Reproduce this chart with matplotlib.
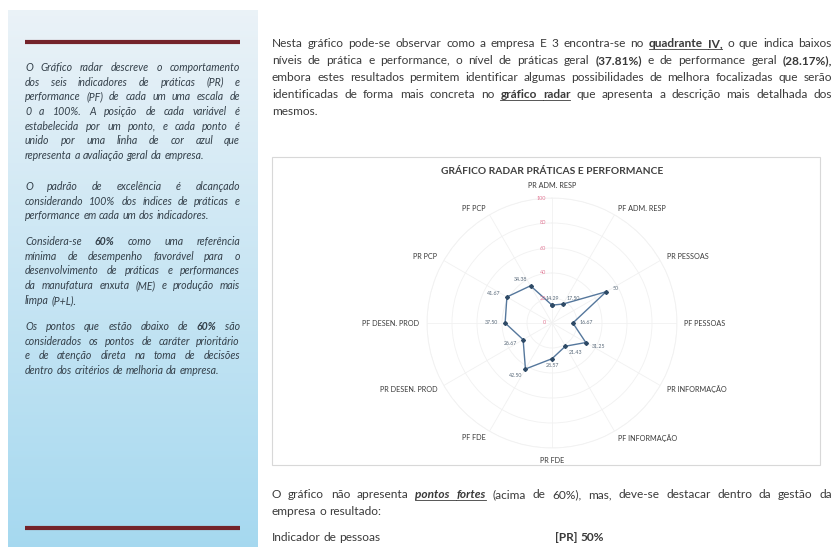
import numpy as np
import matplotlib
matplotlib.use('Agg')
import matplotlib.pyplot as plt
from matplotlib.patches import Rectangle
from matplotlib.transforms import ScaledTranslation

# radar data (percent, 0-100)
categories = ['PR ADM. RESP', 'PF ADM. RESP', 'PR PESSOAS', 'PF PESSOAS',
              'PR INFORMAÇÃO', 'PF INFORMAÇÃO', 'PR FDE', 'PF FDE',
              'PR DESEN. PROD', 'PF DESEN. PROD', 'PR PCP', 'PF PCP']
values = [14.29, 17.50, 50.00, 16.67, 31.25, 21.43, 28.57, 42.50, 26.67, 37.50, 41.67, 34.38]
rticks = [0, 20, 40, 60, 80, 100]

# page text ('*' bold, '_' underline, '~' italic in front of a word)
side_paragraphs = [
    ["O Gráfico radar descreve o comportamento",
     "dos seis indicadores de práticas (PR) e",
     "performance (PF) de cada um uma escala de",
     "0 a 100%. A posição de cada variável é",
     "estabelecida por um ponto, e cada ponto é",
     "unido por uma linha de cor azul que",
     "representa a avaliação geral da empresa."],
    ["O padrão de excelência é alcançado",
     "considerando 100% dos índices de práticas e",
     "performance em cada um dos indicadores."],
    ["Considera-se *60% como uma referência",
     "mínima de desempenho favorável para o",
     "desenvolvimento de práticas e performances",
     "da manufatura enxuta (ME) e produção mais",
     "limpa (P+L)."],
    ["Os pontos que estão abaixo de *60% são",
     "considerados os pontos de caráter prioritário",
     "e de atenção direta na toma de decisões",
     "dentro dos critérios de melhoria da empresa."],
]
side_starts = [71, 190, 245, 330]

body_lines = [
    "Nesta gráfico pode-se observar como a empresa E 3 encontra-se no *_quadrante *_IV, o que indica baixos",
    "níveis de prática e performance, o nível de práticas geral *(37.81%) e de performance geral *(28.17%),",
    "embora estes resultados permitem identificar algumas possibilidades de melhora focalizadas que serão",
    "identificadas de forma mais concreta no *_gráfico *_radar que apresenta a descrição mais detalhada dos",
    "mesmos.",
]
bottom_lines = [
    "O gráfico não apresenta *~_pontos *~_fortes (acima de 60%), mas, deve-se destacar dentro da gestão da",
    "empresa o resultado:",
]

FONT = 'Lato'
W, H = 837, 557
fig = plt.figure(figsize=(W / 100, H / 100), dpi=100)
bg = fig.add_axes([0, 0, 1, 1])
bg.set_xlim(0, W)
bg.set_ylim(H, 0)
bg.axis('off')
renderer = fig.canvas.get_renderer()


def write_line(line, x0, x1, y, size, justify=True, italic=False, color='#3a3a3a'):
    arts, under = [], []
    for w in line.split():
        marks = ''
        while w[0] in '*_~' and len(w) > 1:
            marks += w[0]
            w = w[1:]
        t = bg.text(x0, y, w, fontsize=size, family=FONT, color=color, va='baseline',
                    fontweight='bold' if '*' in marks else 'normal',
                    fontstyle='italic' if (italic or '~' in marks) else 'normal')
        arts.append(t)
        under.append('_' in marks)
    widths = [t.get_window_extent(renderer).width for t in arts]
    space = size * 0.25 * 100 / 72
    natural = sum(widths) + space * (len(arts) - 1)
    if natural > x1 - x0:
        # shrink the line a little so it fits the column
        k = (x1 - x0) / natural
        for t in arts:
            t.set_fontsize(size * k)
        widths = [w * k for w in widths]
        space *= k
    gap = space
    if justify and len(arts) > 1:
        gap = (x1 - x0 - sum(widths)) / (len(arts) - 1)
    x = x0
    for i, t in enumerate(arts):
        t.set_x(x)
        if under[i]:
            end = x + widths[i] + (gap if i + 1 < len(arts) and under[i + 1] else 0)
            bg.plot([x, end], [y + 1.8, y + 1.8], color=color, lw=0.6)
        x += widths[i] + gap


# sidebar panel with gradient
grad = np.linspace(0, 1, 256)[:, None]
top = np.array([0.92, 0.95, 0.97])
bot = np.array([0.65, 0.85, 0.94])
img = (top + (bot - top) * grad)[:, None, :].repeat(2, axis=1)
bg.imshow(img, extent=[8, 258, 547, 10], aspect='auto', zorder=0)
bg.plot([25, 240], [42, 42], color='#74232a', lw=3, solid_capstyle='butt')
bg.plot([25, 240], [528, 528], color='#74232a', lw=3, solid_capstyle='butt')

for para, y0 in zip(side_paragraphs, side_starts):
    for i, line in enumerate(para):
        write_line(line, 25, 240, y0 + i * 14.7, 7.6, justify=(i < len(para) - 1),
                   italic=True, color='#34404a')

for i, line in enumerate(body_lines):
    write_line(line, 272, 832, 47 + i * 17, 8.6, justify=(i < len(body_lines) - 1))
for i, line in enumerate(bottom_lines):
    write_line(line, 272, 832, 498 + i * 17, 8.6, justify=(i == 0))
write_line("Indicador de pessoas", 272, 500, 541, 8.6, justify=False)
write_line("*[PR] *50%", 555, 700, 541, 8.6, justify=False)

# chart box and title
bg.add_patch(Rectangle((272, 157), 548, 308, fill=False, ec='#d8d8d8', lw=0.8))
bg.text(552, 171, 'GRÁFICO RADAR PRÁTICAS E PERFORMANCE', ha='center', va='center',
        fontsize=7.4, fontweight='bold', family=FONT, color='#404040')

# radar
cx, cy, R = 552, 323, 125
ax = fig.add_axes([(cx - R) / W, (H - cy - R) / H, 2 * R / W, 2 * R / H], projection='polar')
ax.set_theta_zero_location('N')
ax.set_theta_direction(-1)
ax.patch.set_alpha(0)
angles = np.arange(len(categories)) * 2 * np.pi / len(categories)
ax.set_xticks(angles)
ax.set_xticklabels([])
ax.set_yticks(rticks[1:])
ax.set_yticklabels([])
ax.set_ylim(0, 100)
ax.grid(color='#f1f1f1', lw=0.6)
ax.spines['polar'].set_color('#f1f1f1')
ax.spines['polar'].set_linewidth(0.6)

ang_c = np.append(angles, angles[0])
val_c = values + [values[0]]
ax.plot(ang_c, val_c, color='#55779c', lw=1.0, marker='D', ms=2.0,
        mfc='#2e4a66', mec='#2e4a66')

for a, v in zip(angles, values):
    s, c = np.sin(a), np.cos(a)
    ha = 'left' if s > 0.1 else ('right' if s < -0.1 else 'center')
    lab = '%.0f' % v if v == int(v) else '%.2f' % v
    ax.annotate(lab, (a, v), xytext=(5 * s, 5 * c), textcoords='offset points',
                ha=ha, va='center', fontsize=3.8, color='#5b6b7b', family=FONT)

for a, name in zip(angles, categories):
    s = np.sin(a)
    ha = 'left' if s > 0.1 else ('right' if s < -0.1 else 'center')
    r = 110 if abs(s) < 0.1 else 106
    ax.text(a, r, name, ha=ha, va='center', fontsize=5.2, color='#3a3a3a', family=FONT)

shift = ScaledTranslation(-0.06, 0, fig.dpi_scale_trans)
for v in rticks:
    ax.text(0, v, str(v), ha='right', va='center', fontsize=4, color='#e27b97',
            family=FONT, transform=ax.transData + shift)

fig.savefig('out.png', dpi=100)
